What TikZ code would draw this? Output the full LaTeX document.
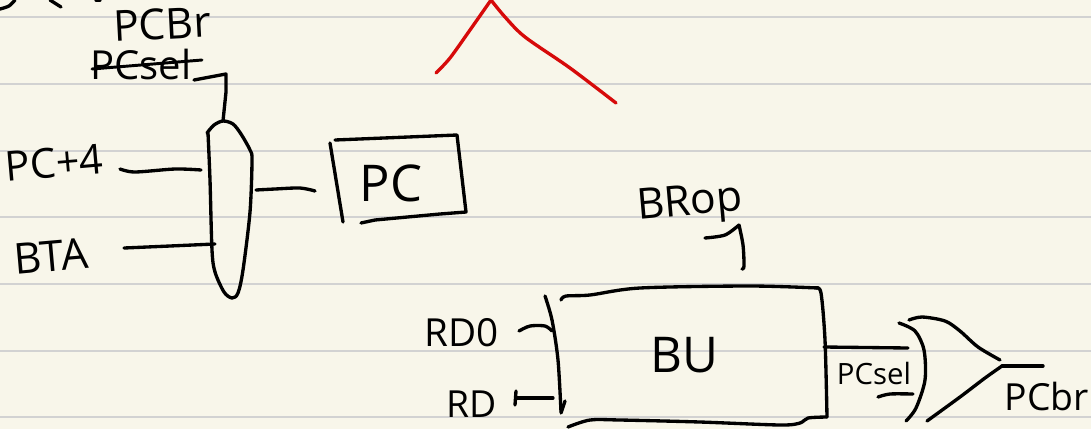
\documentclass[tikz,border=0pt]{standalone}
\usepackage{fontspec}
\setmainfont{Open Sans}
\definecolor{paper}{HTML}{F8F6EA}
\definecolor{rule}{HTML}{D2D2D2}
\definecolor{redink}{HTML}{D60A0A}
\tikzset{
  ink/.style={line width=2.5pt,line cap=round,line join=round,black},
  redstroke/.style={line width=2.5pt,line cap=round,line join=round,redink},
  ruled/.style={line width=1.9pt,rule},
  hand/.style={inner sep=0pt,font=\fontsize{#1}{#1}\selectfont},
}
\begin{document}
\begin{tikzpicture}[x=0.75pt,y=-0.75pt]
\path[use as bounding box,fill=paper] (0,0) rectangle (1091,429);
\foreach \yy in {17,84,151,217,284,351,417}{\draw[ruled] (0,\yy) -- (1091,\yy);}
% stray strokes at the top
\draw[ink] plot[smooth] coordinates {(0,9) (9,6) (15,0)};
\draw[ink] (50,0) -- (61,7);
\draw[ink] (96,0) -- (100,0);
% red strokes
\coordinate (redtop) at (491,0);
\draw[redstroke] plot[smooth] coordinates {(491,0) (470,30) (450,58) (436,73)};
\draw[redstroke] plot[smooth] coordinates {(491,0) (505,17) (525,37) (570,68) (616,103)};
% labels
\node[hand=32,rotate=3] (pcbr) at (162,24) {PCBr};
\node[hand=30] (pcsel) at (141,64) {PCsel};
\draw[ink,line width=2.2pt] (92,69) -- (202,60);
\node[hand=31,rotate=5] (pc4) at (54,163) {PC+4};
\node[hand=32,rotate=5] (bta) at (51,256) {BTA};
\node[hand=38] (pclabel) at (391,183) {PC};
\node[hand=32,rotate=5] (brop) at (690,205) {BRop};
\node[hand=29] (rd0) at (462,333) {RD0};
\node[hand=28] (rd) at (472,404) {RD};
\node[hand=37] (bulabel) at (684,355) {BU};
\node[hand=22] (pcselb) at (874,373) {PCsel};
\node[hand=28] (pcbrb) at (1047,396) {PCbr};
% mux
\coordinate (muxsel) at (223,121);
\coordinate (muxa) at (201,170);
\coordinate (muxb) at (215,244);
\coordinate (muxout) at (256,190);
\draw[ink] plot[smooth] coordinates {(207,133) (214,125) (223,121) (233,124) (241,134) (250,150) (252,160) (250,212) (243,270) (238,293) (232,298) (224,292) (215,272) (212,250) (210,180) (208,133)};
\draw[ink] (194,80) -- (226,74) -- (226,92) -- (muxsel);
\draw[ink] plot[smooth] coordinates {(120,169) (135,172) (175,169) (muxa)};
\draw[ink] (124,248) -- (170,246) -- (muxb);
\draw[ink] plot[smooth] coordinates {(muxout) (275,189) (300,188) (315,191)};
% PC register
\draw[ink] (330,143) -- (343,222);
\draw[ink] (335,140) -- (457,135) -- (466,212) -- (440,214) -- (375,220) -- (361,223);
% branch unit
\coordinate (buctl) at (742,269);
\coordinate (bua) at (552,331);
\coordinate (bub) at (553,398);
\coordinate (buout) at (824,347);
\draw[ink] plot[smooth] coordinates {(705,238) (725,235) (739,225)};
\draw[ink] plot[smooth] coordinates {(739,225) (743,245) (744,266) (buctl)};
\draw[ink] plot[smooth] coordinates {(545,296) (552,320) (558,360) (561,412)};
\draw[ink] (561,413) -- (565,401);
\draw[ink] plot[smooth] coordinates {(561,300) (566,296) (590,295) (640,288) (750,286) (818,288)};
\draw[ink] plot[smooth] coordinates {(816,288) (821,293) (825,340) (827,417)};
\draw[ink] plot[smooth] coordinates {(827,417) (808,418) (800,423) (780,425) (700,422) (620,420) (590,420) (568,427)};
\draw[ink] plot[smooth] coordinates {(519,331) (530,326) (545,326) (bua)};
\draw[ink] (516,391) -- (515,405);
\draw[ink] (517,398) -- (bub);
\coordinate (orin) at (908,348);
\draw[ink] (buout) -- (orin);
\draw[ink] plot[smooth] coordinates {(878,397) (890,394) (913,394)};
% or gate
\coordinate (orout) at (1002,366);
\draw[ink] plot[smooth] coordinates {(899,323) (915,331) (924,350) (925,380) (916,408) (906,421)};
\draw[ink] plot[smooth] coordinates {(909,320) (922,317) (945,321) (960,331) (978,347) (1000,360)};
\draw[ink] plot[smooth] coordinates {(927,421) (960,397) (985,378) (orout)};
\draw[ink] (orout) -- (1043,366);
\end{tikzpicture}
\end{document}
